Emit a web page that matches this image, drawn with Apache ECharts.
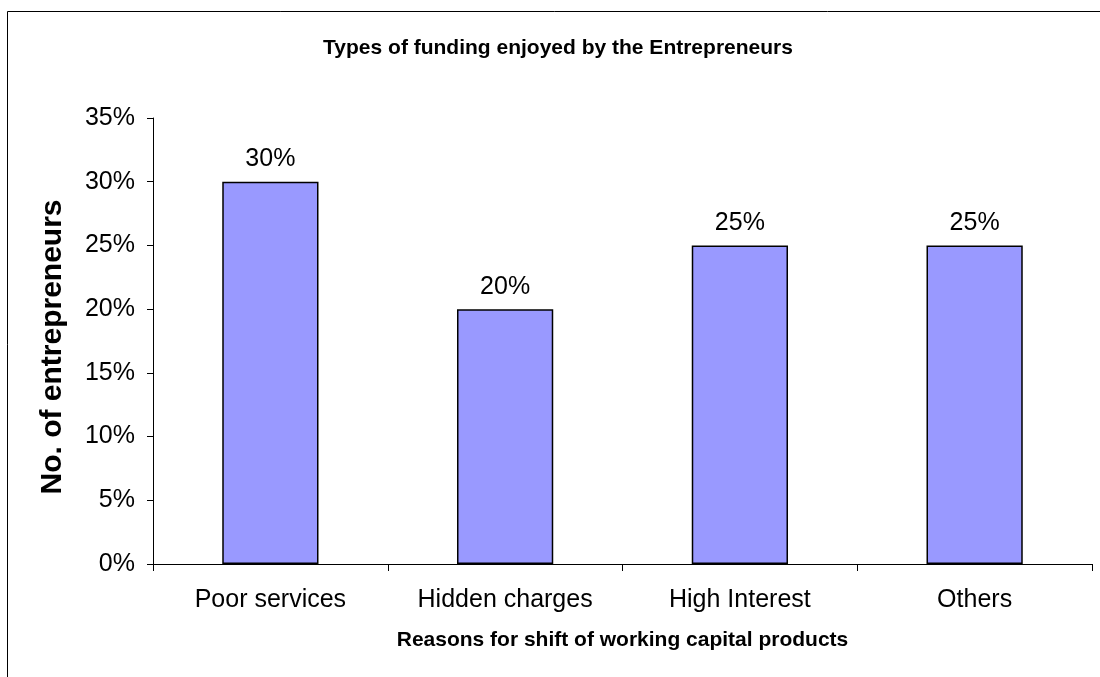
<!DOCTYPE html>
<html>
<head>
<meta charset="utf-8">
<script src="https://cdn.jsdelivr.net/npm/echarts@6/dist/echarts.min.js"></script>
<style>
  html, body { margin: 0; padding: 0; background: #fff; }
  #chart { width: 1100px; height: 677px; }
</style>
</head>
<body>
<div id="chart"></div>
<script>
// Reasons given for switching working capital products
const categories = ['Poor services', 'Hidden charges', 'High Interest', 'Others'];
const shares = [30, 20, 25, 25];          // percent of entrepreneurs
const yTicks = [0, 5, 10, 15, 20, 25, 30, 35];

const FONT = '"Liberation Sans", Arial, sans-serif';

const chart = echarts.init(document.getElementById('chart'));
chart.setOption({
  animation: false,
  backgroundColor: '#ffffff',
  title: {
    text: 'Types of funding enjoyed by the Entrepreneurs',
    left: 553,
    top: 33,
    textAlign: 'center',
    textStyle: { fontFamily: FONT, fontSize: 21, fontWeight: 'bold', color: '#000' }
  },
  graphic: [{
    // outer frame, open on the right and bottom edges
    type: 'rect',
    shape: { x: 7.5, y: 11.5, width: 1200, height: 800 },
    style: { fill: 'none', stroke: '#000', lineWidth: 1 },
    silent: true
  }],
  grid: { left: 153, right: 8, top: 118, bottom: 113 },
  xAxis: {
    type: 'category',
    data: categories,
    name: 'Reasons for shift of working capital products',
    nameLocation: 'middle',
    nameGap: 66,
    nameTextStyle: { fontFamily: FONT, fontSize: 21, fontWeight: 'bold', color: '#000' },
    axisLine: { lineStyle: { color: '#000', width: 1 } },
    axisTick: { show: true, length: 7, lineStyle: { color: '#000' } },
    axisLabel: { fontFamily: FONT, fontSize: 25, color: '#000', margin: 24 },
    splitLine: { show: false }
  },
  yAxis: {
    type: 'value',
    min: yTicks[0],
    max: yTicks[yTicks.length - 1],
    interval: 5,
    name: 'No. of entrepreneurs',
    nameLocation: 'middle',
    nameGap: 85,
    nameTextStyle: {
      fontFamily: FONT, fontSize: 30, fontWeight: 'bold', color: '#000',
      padding: [0, 12, 0, 0]
    },
    axisLine: { show: true, lineStyle: { color: '#000', width: 1 } },
    axisTick: { show: true, length: 6, lineStyle: { color: '#000' } },
    axisLabel: { fontFamily: FONT, fontSize: 25, color: '#000', margin: 18, formatter: '{value}%' },
    splitLine: { show: false }
  },
  series: [{
    type: 'bar',
    data: shares,
    barWidth: '41%',
    itemStyle: { color: '#9999FF', borderColor: '#000', borderWidth: 1.5 },
    label: {
      show: true,
      position: 'top',
      distance: 10,
      formatter: '{c}%',
      fontFamily: FONT,
      fontSize: 25,
      color: '#000'
    }
  }]
});
</script>
</body>
</html>
